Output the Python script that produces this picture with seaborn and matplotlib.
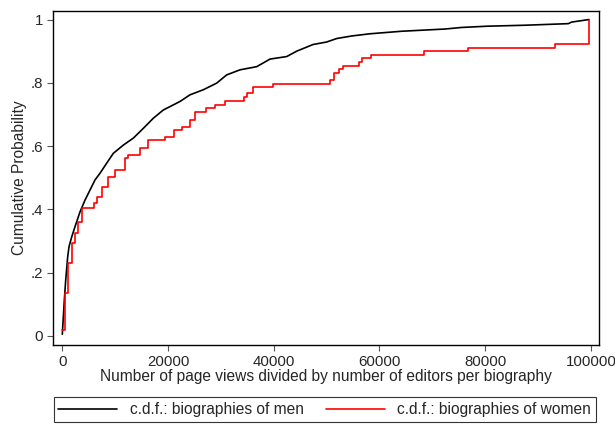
import numpy as np
import pandas as pd
import matplotlib
matplotlib.use("Agg")
import matplotlib.pyplot as plt
import seaborn as sns

# c.d.f. points (x = page views / editors)
men_x = [0, 380, 640, 1020, 1270, 1780, 2400, 3350, 4290, 5240, 6190, 7130,
         8400, 9650, 11540, 13430, 15330, 17220, 19110, 22270, 24160, 26680,
         29210, 31100, 33620, 36780, 39300, 42460, 44350, 47430, 50020, 51920,
         54750, 58220, 64210, 72410, 75570, 80490, 87540, 95730, 96380, 99650]
men_y = [0.005, 0.113, 0.176, 0.25, 0.282, 0.313, 0.345, 0.392, 0.429, 0.461,
         0.493, 0.514, 0.546, 0.577, 0.603, 0.625, 0.656, 0.688, 0.714, 0.741,
         0.762, 0.778, 0.799, 0.825, 0.841, 0.851, 0.875, 0.883, 0.9, 0.921,
         0.929, 0.94, 0.948, 0.955, 0.963, 0.970, 0.975, 0.979, 0.982, 0.987,
         0.992, 1.0]

women_x = [0, 510, 1135, 1780, 2400, 2915, 3670, 6055, 6510, 7455, 8700, 9970,
           11860, 12490, 14700, 16270, 19430, 21130, 22590, 24160, 25110,
           27190, 28890, 30780, 34380, 34890, 36140, 39810, 50650, 51460,
           52410, 53170, 56130, 56650, 58350, 68430, 76700, 93280, 99710]
women_y = [0.018, 0.134, 0.229, 0.292, 0.324, 0.361, 0.403, 0.419, 0.44, 0.471,
           0.503, 0.524, 0.561, 0.572, 0.593, 0.619, 0.630, 0.651, 0.661, 0.683,
           0.709, 0.720, 0.730, 0.743, 0.754, 0.767, 0.788, 0.797, 0.81, 0.832,
           0.843, 0.853, 0.866, 0.877, 0.887, 0.899, 0.909, 0.922, 1.0]

men_label = "c.d.f.: biographies of men"
women_label = "c.d.f.: biographies of women"

x_ticks = [0, 20000, 40000, 60000, 80000, 100000]
y_ticks = [0, 0.2, 0.4, 0.6, 0.8, 1.0]
y_ticklabels = ["0", ".2", ".4", ".6", ".8", "1"]

sns.set_style("ticks")
plt.rcParams["font.family"] = ["Liberation Sans", "DejaVu Sans"]
plt.rcParams["axes.edgecolor"] = "black"
plt.rcParams["axes.linewidth"] = 1.0

fig = plt.figure(figsize=(6.15, 4.24), dpi=100)
ax = fig.add_axes([0.0862, 0.1863, 0.8878, 0.7885])

men = pd.DataFrame({"x": men_x, "y": men_y})
women = pd.DataFrame({"x": women_x, "y": women_y})

sns.lineplot(data=men, x="x", y="y", ax=ax, color="black", linewidth=1.2,
             estimator=None, sort=False, label=men_label)
sns.lineplot(data=women, x="x", y="y", ax=ax, color="#ff0000", linewidth=1.2,
             estimator=None, sort=False, drawstyle="steps-post", label=women_label)

ax.set_xlim(-1760, 101550)
ax.set_ylim(-0.029, 1.028)
ax.set_xticks(x_ticks)
ax.set_xticklabels([str(t) for t in x_ticks])
ax.set_yticks(y_ticks)
ax.set_yticklabels(y_ticklabels)
ax.tick_params(axis="both", direction="out", length=4, width=0.8,
               color="#555555", labelsize=10.8, pad=3)
ax.set_xlabel("Number of page views divided by number of editors per biography",
              fontsize=11.2, labelpad=0)
ax.set_ylabel("Cumulative Probability", fontsize=11.2, labelpad=3)

ax.get_legend().remove()
handles, labels = ax.get_legend_handles_labels()
leg = fig.legend(handles, labels, loc="upper center", bbox_to_anchor=(0.528, 0.063),
                 ncol=2, frameon=True, fancybox=False, edgecolor="black",
                 fontsize=11.2, handlelength=3.8, columnspacing=1.4,
                 borderpad=0.3, borderaxespad=0)
leg.get_frame().set_linewidth(0.8)

fig.savefig("out.png", dpi=100)
